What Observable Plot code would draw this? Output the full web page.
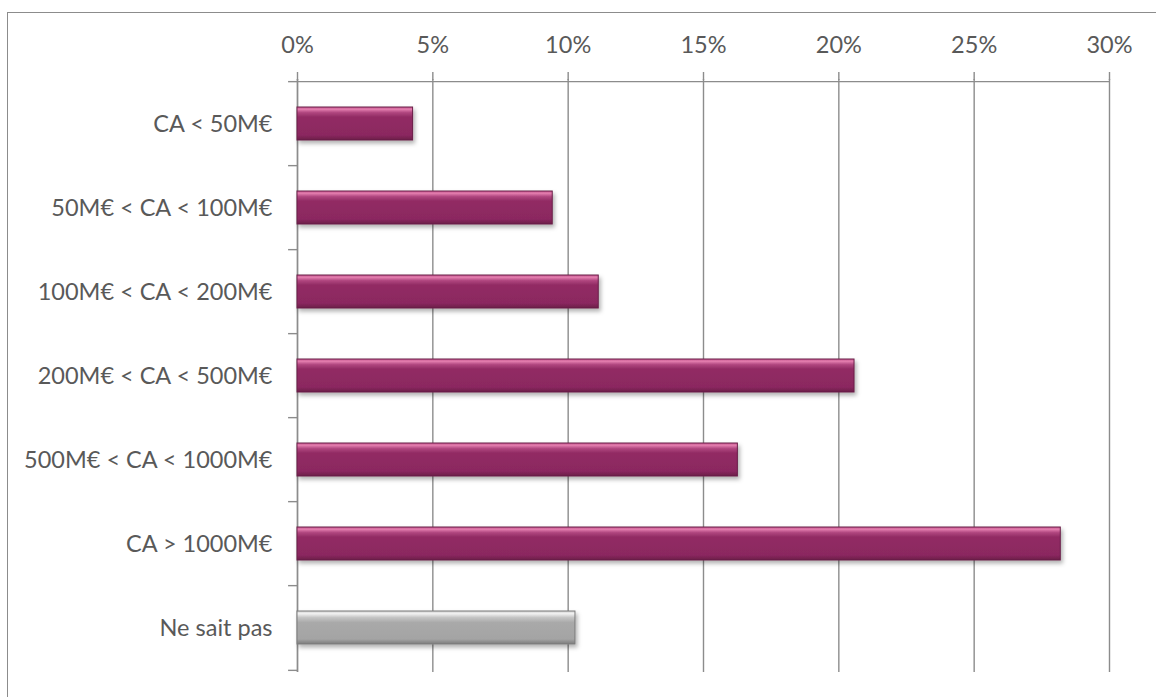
<!DOCTYPE html>
<html>
<head>
<meta charset="utf-8">
<script src="https://cdn.jsdelivr.net/npm/d3@7"></script>
<script src="https://cdn.jsdelivr.net/npm/@observablehq/plot@0.6"></script>
<style>
  html, body { margin: 0; padding: 0; background: #fff; }
  #wrap { position: relative; width: 1156px; height: 697px; overflow: hidden; }
  #frame { position: absolute; left: 7px; top: 12px; width: 1200px; height: 800px;
           border-left: 1.5px solid #8c8c8c; border-top: 1.5px solid #8c8c8c; pointer-events: none; }
  #chart { position: absolute; left: 0; top: 0; }
</style>
</head>
<body>
<div id="wrap"><div id="frame"></div><div id="chart"></div></div>
<script>
const categories = ["CA < 50M€", "50M€ < CA < 100M€", "100M€ < CA < 200M€", "200M€ < CA < 500M€",
                    "500M€ < CA < 1000M€", "CA > 1000M€", "Ne sait pas"];
const shares = [0.0427, 0.0943, 0.1113, 0.2058, 0.1627, 0.282, 0.1027];
const xTicks = [0, 0.05, 0.10, 0.15, 0.20, 0.25, 0.30];
const grayCategory = "Ne sait pas";

const data = categories.map((c, i) => ({category: c, share: shares[i]}));

const W = 1156, H = 697, mT = 79, mB = 25, mL = 297, mR = 47;
const step = (H - mT - mB) / categories.length;
const gridColor = "#8c8c8c";
const font = "Lato, 'Open Sans', sans-serif";

const chart = Plot.plot({
  width: W, height: H,
  marginTop: mT, marginBottom: mB, marginLeft: mL, marginRight: mR,
  style: {fontFamily: font, fontSize: "23.5px", color: "#595959", background: "transparent", overflow: "visible"},
  x: {domain: [0, 0.30]},
  y: {domain: categories, paddingInner: 0.61, paddingOuter: 0.305},
  marks: [
    Plot.gridX(xTicks, {stroke: gridColor, strokeOpacity: 1, strokeWidth: 1.4}),
    Plot.axisX(xTicks, {anchor: "top", tickSize: 8, tickPadding: 19, stroke: gridColor, strokeWidth: 1.4,
                tickFormat: d3.format(".0%"), fill: "#595959", fontSize: 23.5, label: null}),
    Plot.axisY({tickSize: 0, tickPadding: 25, fill: "#595959", fontSize: 23.5, label: null}),
    // top axis line
    Plot.ruleY([categories[0]], {x1: 0, x2: 0.30, dy: -step / 2, stroke: gridColor, strokeWidth: 1.4}),
    // left axis line
    Plot.ruleX([0], {stroke: gridColor, strokeWidth: 1.4}),
    // band boundary ticks
    Plot.ruleY(categories, {x1: -0.0033, x2: 0, dy: -step / 2, stroke: gridColor, strokeWidth: 1.4}),
    Plot.ruleY([categories[categories.length - 1]], {x1: -0.0033, x2: 0, dy: step / 2, stroke: gridColor, strokeWidth: 1.4}),
    Plot.barX(data.filter(d => d.category !== grayCategory),
      {x: "share", y: "category", fill: "url(#gPurple)", stroke: "#6a1f48", strokeWidth: 1}),
    Plot.barX(data.filter(d => d.category === grayCategory),
      {x: "share", y: "category", fill: "url(#gGray)", stroke: "#7a7a7a", strokeWidth: 1})
  ]
});

// gradients and shadow
const ns = "http://www.w3.org/2000/svg";
const defs = document.createElementNS(ns, "defs");
defs.innerHTML = `
  <linearGradient id="gPurple" x1="0" y1="0" x2="0" y2="1">
    <stop offset="0" stop-color="#c4538d"/>
    <stop offset="0.07" stop-color="#e37dae"/>
    <stop offset="0.17" stop-color="#b0467f"/>
    <stop offset="0.3" stop-color="#922b64"/>
    <stop offset="0.85" stop-color="#8b2860"/>
    <stop offset="1" stop-color="#6a1d47"/>
  </linearGradient>
  <linearGradient id="gGray" x1="0" y1="0" x2="0" y2="1">
    <stop offset="0" stop-color="#d0d0d0"/>
    <stop offset="0.08" stop-color="#f2f2f2"/>
    <stop offset="0.2" stop-color="#c4c4c4"/>
    <stop offset="0.35" stop-color="#a9a9a9"/>
    <stop offset="0.85" stop-color="#a4a4a4"/>
    <stop offset="1" stop-color="#7c7c7c"/>
  </linearGradient>
  <filter id="shadow" x="-5%" y="-30%" width="110%" height="180%">
    <feDropShadow dx="2" dy="3" stdDeviation="2" flood-color="#000" flood-opacity="0.3"/>
  </filter>`;
chart.insertBefore(defs, chart.firstChild);
chart.querySelectorAll("rect").forEach(r => {
  const f = r.getAttribute("fill") || (r.parentNode && r.parentNode.getAttribute("fill"));
  if (f && f.startsWith("url(")) r.setAttribute("filter", "url(#shadow)");
});
document.getElementById("chart").appendChild(chart);
</script>
</body>
</html>
